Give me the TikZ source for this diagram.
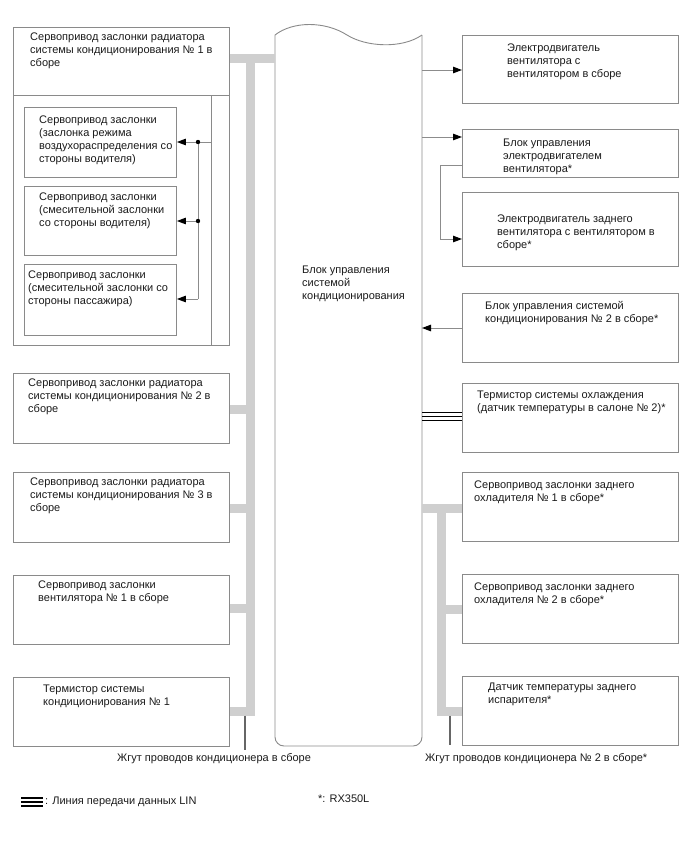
\documentclass[tikz,border=0pt]{standalone}
\usepackage{fontspec}
\setmainfont{Liberation Sans}
\usetikzlibrary{arrows.meta,calc}
\definecolor{boxgray}{HTML}{8A8A8A}
\definecolor{busgray}{HTML}{CFCFCF}
\definecolor{wiregray}{HTML}{8C8C8C}
\definecolor{txtc}{HTML}{1A1A1A}
\tikzset{
  box/.style={draw=boxgray, line width=0.9pt, inner sep=0, anchor=north west},
  txt/.style={font=\fontsize{11}{13}\selectfont, align=left, inner sep=0, anchor=north west, text=txtc, yshift=-1pt},
  lbl/.style={font=\fontsize{11}{13}\selectfont, inner sep=0, anchor=west, text=txtc},
  bus/.style={draw=busgray, line width=9pt},
  wire/.style={draw=wiregray, line width=1pt},
  arr/.style={wire, -{Triangle[length=9pt,width=6.5pt,color=black,fill=black]}},
  lin/.style={draw=black, line width=1.5pt},
  harness/.style={draw=gray!80!black, line width=1.3pt},
}
\begin{document}
\begin{tikzpicture}[x=1pt,y=-1pt]
\useasboundingbox (0,0) rectangle (688,852);

% ---------- left group 1 ----------
\node[box, minimum width=216, minimum height=318] (L1) at (13,27) {};
\coordinate (L1div) at (13,95);
\draw[boxgray, line width=0.9pt] (L1div) -- (L1div -| L1.east);
\coordinate (L1inT) at (211,95);
\coordinate (L1inB) at (211,345);
\draw[boxgray, line width=0.9pt] (L1inT) -- (L1inB);
\node[txt] (L1t) at (30,32) {Сервопривод заслонки радиатора\\системы кондиционирования № 1 в\\сборе};

\node[box, minimum width=152, minimum height=70] (A) at (24,107) {};
\node[box, minimum width=152, minimum height=69] (B) at (24,186) {};
\node[box, minimum width=152, minimum height=71] (C) at (24,264) {};
\node[txt] (At) at (39,115) {Сервопривод заслонки\\(заслонка режима\\воздухораспределения со\\стороны водителя)};
\node[txt] (Bt) at (39,192) {Сервопривод заслонки\\(смесительной заслонки\\со стороны водителя)};
\node[txt] (Ct) at (28,270) {Сервопривод заслонки\\(смесительной заслонки со\\стороны пассажира)};

\coordinate (sA) at (211,142);
\coordinate (jA) at (198,142);
\coordinate (jB) at (198,221);
\coordinate (jC) at (198,299);
\draw[wire] (sA) -- (jA) -- (jC);
\draw[arr] (jA) -- (jA -| A.east);
\draw[arr] (jB) -- (jB -| B.east);
\draw[arr] (jC) -- (jC -| C.east);
\fill (jA) circle (2.2);
\fill (jB) circle (2.2);

% ---------- left boxes ----------
\node[box, minimum width=216, minimum height=70] (L2) at (13,373) {};
\node[box, minimum width=216, minimum height=70] (L3) at (13,472) {};
\node[box, minimum width=216, minimum height=69] (L4) at (13,575) {};
\node[box, minimum width=216, minimum height=69] (L5) at (13,677) {};
\node[txt] (L2t) at (28,378) {Сервопривод заслонки радиатора\\системы кондиционирования № 2 в\\сборе};
\node[txt] (L3t) at (30,477) {Сервопривод заслонки радиатора\\системы кондиционирования № 3 в\\сборе};
\node[txt] (L4t) at (38,580) {Сервопривод заслонки\\вентилятора № 1 в сборе};
\node[txt] (L5t) at (43,684) {Термистор системы\\кондиционирования № 1};

% ---------- center ECU ----------
\coordinate (CTL) at (275,35);
\coordinate (CTR) at (422,35);
\coordinate (CBL) at (275,746);
\coordinate (CBR) at (422,746);
\draw[boxgray, line width=0.9pt, rounded corners=9pt]
  (CTR) -- (CBR) -- (CBL) -- (CTL);
\draw[boxgray, line width=0.9pt]
  (CTL) .. controls (293,21) and (325,21) .. (347,35)
        .. controls (366,47) and (402,49) .. (CTR);
\node[txt] (ECUt) at (302,265) {Блок управления\\системой\\кондиционирования};

% ---------- left bus ----------
\coordinate (busT) at (250,58);
\coordinate (busB) at (250,711);
\draw[bus] (L1.east |- busT) -- (CTL |- busT);
\draw[bus, line join=miter] (busT) -- (busB) -- (busB -| L5.east);
\draw[bus] (L2.east |- 0,409) -- (250,409);
\draw[bus] (L3.east |- 0,508) -- (250,508);
\draw[bus] (L4.east |- 0,608) -- (250,608);
\coordinate (hL) at (245,715.5);
\coordinate (hLe) at (245,750);
\draw[harness] (hL) -- (hLe);
\node[lbl] (hLt) at (117,759) {Жгут проводов кондиционера в сборе};

% ---------- right boxes ----------
\node[box, minimum width=216, minimum height=68] (R1) at (462,35) {};
\node[box, minimum width=216, minimum height=48] (R2) at (462,129) {};
\node[box, minimum width=216, minimum height=74] (R3) at (462,192) {};
\node[box, minimum width=216, minimum height=69] (R4) at (462,293) {};
\node[box, minimum width=216, minimum height=69] (R5) at (462,383) {};
\node[box, minimum width=216, minimum height=69] (R6) at (462,472) {};
\node[box, minimum width=216, minimum height=69] (R7) at (462,574) {};
\node[box, minimum width=216, minimum height=69] (R8) at (462,676) {};
\node[txt] (R1t) at (507,43) {Электродвигатель\\вентилятора с\\вентилятором в сборе};
\node[txt] (R2t) at (503,138) {Блок управления\\электродвигателем\\вентилятора*};
\node[txt] (R3t) at (497,214) {Электродвигатель заднего\\вентилятора с вентилятором в\\сборе*};
\node[txt] (R4t) at (485,300) {Блок управления системой\\кондиционирования № 2 в сборе*};
\node[txt] (R5t) at (477,390) {Термистор системы охлаждения\\(датчик температуры в салоне № 2)*};
\node[txt] (R6t) at (474,480) {Сервопривод заслонки заднего\\охладителя № 1 в сборе*};
\node[txt] (R7t) at (474,582) {Сервопривод заслонки заднего\\охладителя № 2 в сборе*};
\node[txt] (R8t) at (488,682) {Датчик температуры заднего\\испарителя*};

% arrows
\draw[arr] (CTR |- 0,70) -- (R1.west |- 0,70);
\draw[arr] (CTR |- 0,137) -- (R2.west |- 0,137);
\coordinate (r23a) at (440,165);
\coordinate (r23b) at (440,239);
\draw[arr] (R2.west |- r23a) -- (r23a) -- (r23b) -- (R3.west |- r23b);
\draw[arr] (R4.west |- 0,328) -- (CTR |- 0,328);
% LIN
\draw[lin] (CTR |- 0,412.7) -- (R5.west |- 0,412.7);
\draw[lin] (CTR |- 0,416.7) -- (R5.west |- 0,416.7);
\draw[lin] (CTR |- 0,420.7) -- (R5.west |- 0,420.7);

% right bus
\coordinate (rbusT) at (441,508);
\coordinate (rbusB) at (441,711);
\draw[bus] (CTR |- rbusT) -- (R6.west |- rbusT);
\draw[bus, line join=miter] (rbusT) -- (rbusB) -- (R8.west |- rbusB);
\draw[bus] (441,609) -- (R7.west |- 0,609);
\coordinate (hR) at (450,715.5);
\coordinate (hRe) at (450,745);
\draw[harness] (hR) -- (hRe);
\node[lbl] (hRt) at (425,759) {Жгут проводов кондиционера № 2 в сборе*};

% ---------- legend ----------
\coordinate (lg1) at (21,798);
\coordinate (lg2) at (43,798);
\draw[lin] (lg1) -- (lg2);
\draw[lin] ($(lg1)+(0,4)$) -- ($(lg2)+(0,4)$);
\draw[lin] ($(lg1)+(0,8)$) -- ($(lg2)+(0,8)$);
\node[lbl] (lgt) at (45,802) {: Линия передачи данных LIN};
\node[lbl] (note) at (318,799) {*: RX350L};
\end{tikzpicture}
\end{document}
